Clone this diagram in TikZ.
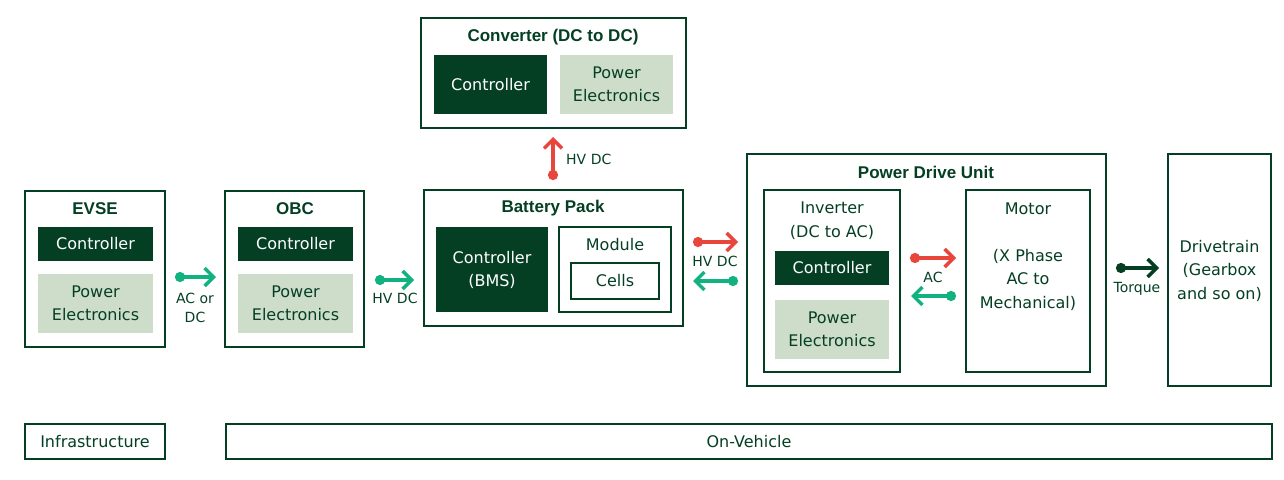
\documentclass[tikz,border=0pt]{standalone}
\usepackage{fontspec}
\setmainfont{DejaVu Sans}
\newfontfamily\titlefont{Liberation Sans}
\usetikzlibrary{arrows.meta}
\definecolor{dg}{RGB}{4,63,36}
\definecolor{lg}{RGB}{206,221,202}
\definecolor{rd}{RGB}{232,70,60}
\definecolor{gr}{RGB}{18,178,128}
\tikzset{
  box/.style={draw=dg, line width=1.3pt, fill=white, inner sep=0pt},
  dark/.style={fill=dg, inner sep=0pt, text=white, align=center, font=\fontsize{16}{23}\selectfont},
  light/.style={fill=lg, inner sep=0pt, text=dg, align=center, font=\fontsize{16}{23}\selectfont},
  ttl/.style={text=dg, inner sep=0pt, font=\titlefont\bfseries\fontsize{17}{23}\selectfont},
  txt/.style={text=dg, inner sep=0pt, align=center, font=\fontsize{16}{23.5}\selectfont},
  lbl/.style={text=dg, inner sep=0pt, align=center, font=\fontsize{14}{19}\selectfont},
  conn/.style={line width=3.5pt, {Circle[length=10pt]}-{Straight Barb[length=9pt,width=18pt]}},
}
\begin{document}
\begin{tikzpicture}[x=1pt,y=-1pt]
\useasboundingbox (0,0) rectangle (1284,479);
% EVSE
\node[box, minimum width=140, minimum height=156] (evse) at (95,269) {};
\node[ttl] (evset) at (95,209) {EVSE};
\node[dark, minimum width=115, minimum height=34] (evsec) at (95.5,244) {Controller};
\node[light, minimum width=115, minimum height=59] (evsep) at (95.5,303.5) {Power\\Electronics};
% OBC
\node[box, minimum width=139, minimum height=156] (obc) at (294.5,269) {};
\node[ttl] (obct) at (295,209) {OBC};
\node[dark, minimum width=115, minimum height=34] (obcc) at (295.5,244) {Controller};
\node[light, minimum width=115, minimum height=59] (obcp) at (295.5,303.5) {Power\\Electronics};
% Battery
\node[box, minimum width=259, minimum height=136] (bat) at (553.5,258) {};
\node[ttl] (batt) at (553,208) {Battery Pack};
\node[dark, minimum width=112, minimum height=85] (bms) at (492,269.5) {Controller\\(BMS)};
\node[box, minimum width=112, minimum height=85] (mod) at (615,269.5) {};
\node[txt] (modt) at (615,245) {Module};
\node[box, minimum width=88, minimum height=36, text=dg, font=\fontsize{16}{23}\selectfont] (cells) at (615,281) {Cells};
% Converter
\node[box, minimum width=265, minimum height=110] (conv) at (553.5,73) {};
\node[ttl] (convt) at (553,37) {Converter (DC to DC)};
\node[dark, minimum width=113, minimum height=59] (convc) at (490.5,84.5) {Controller};
\node[light, minimum width=113, minimum height=59] (convp) at (616.5,84.5) {Power\\Electronics};
% PDU
\node[box, minimum width=359, minimum height=232] (pdu) at (926.5,270) {};
\node[ttl] (pdut) at (926,172) {Power Drive Unit};
\node[box, minimum width=136, minimum height=182] (inv) at (832,281) {};
\node[txt] (invt) at (832,220.5) {Inverter\\(DC to AC)};
\node[dark, minimum width=114, minimum height=34] (invc) at (832,268) {Controller};
\node[light, minimum width=114, minimum height=59] (invp) at (832,329.5) {Power\\Electronics};
\node[box, minimum width=124, minimum height=182] (mot) at (1028,281) {};
\node[txt] (mott) at (1028,209) {Motor};
\node[txt] (motd) at (1028,279.5) {(X Phase\\AC to\\Mechanical)};
% Drivetrain
\node[box, minimum width=103, minimum height=232] (drv) at (1219.5,270) {};
\node[txt] (drvt) at (1219.5,270.5) {Drivetrain\\(Gearbox\\and so on)};
% bottom
\node[box, minimum width=140, minimum height=35, text=dg, font=\fontsize{16}{23}\selectfont] (infra) at (95,441.5) {Infrastructure};
\node[box, minimum width=1046, minimum height=35, text=dg, font=\fontsize{16}{23}\selectfont] (onv) at (749,441.5) {On-Vehicle};
% arrow coordinates
\coordinate (a1s) at (175,277); \coordinate (a1e) at (216,277);
\coordinate (a2s) at (375,280); \coordinate (a2e) at (414,280);
\coordinate (a3s) at (553,180); \coordinate (a3e) at (553,137);
\coordinate (a4s) at (693,242); \coordinate (a4e) at (738,242);
\coordinate (a5s) at (738,281); \coordinate (a5e) at (693,281);
\coordinate (a6s) at (910,258); \coordinate (a6e) at (956,258);
\coordinate (a7s) at (956,296); \coordinate (a7e) at (911,296);
\coordinate (a8s) at (1116,268); \coordinate (a8e) at (1159,268);
\draw[conn, gr] (a1s) -- (a1e);
\draw[conn, gr] (a2s) -- (a2e);
\draw[conn, rd] (a3s) -- (a3e);
\draw[conn, rd] (a4s) -- (a4e);
\draw[conn, gr] (a5s) -- (a5e);
\draw[conn, rd] (a6s) -- (a6e);
\draw[conn, gr] (a7s) -- (a7e);
\draw[conn, dg] (a8s) -- (a8e);
\node[lbl] (l1) at (195,307.5) {AC or\\DC};
\node[lbl] (l2) at (395,298) {HV DC};
\node[lbl, anchor=west] (l3) at (566,159) {HV DC};
\node[lbl] (l4) at (715,261) {HV DC};
\node[lbl] (l5) at (933,277) {AC};
\node[lbl] (l6) at (1137,289) {Torque};
\end{tikzpicture}
\end{document}
